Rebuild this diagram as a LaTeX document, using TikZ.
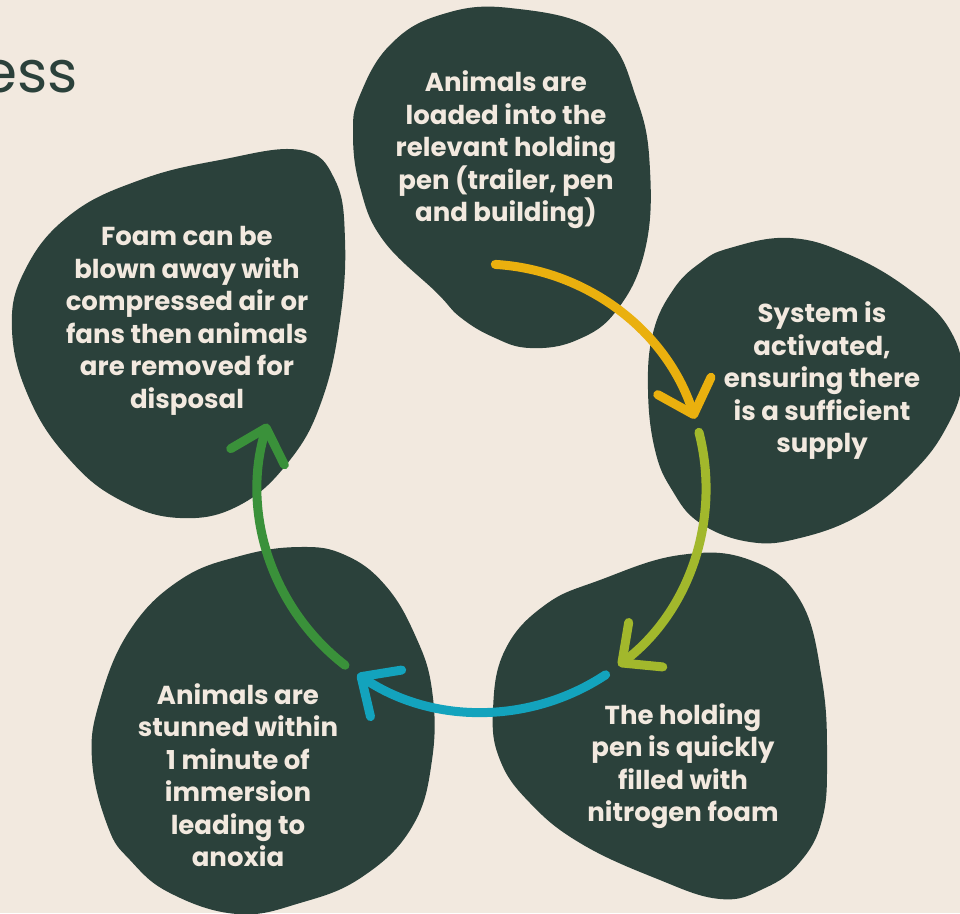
\documentclass[tikz,border=0pt]{standalone}
\usepackage{fontspec}
\setmainfont{Poppins}
\usetikzlibrary{arrows.meta,calc}
\definecolor{bg}{HTML}{F2E9DF}
\definecolor{blob}{HTML}{2B413B}
\definecolor{txt}{HTML}{F2E9DF}
\definecolor{cyel}{HTML}{EAB00E}
\definecolor{clime}{HTML}{A2B82C}
\definecolor{cteal}{HTML}{13A3BD}
\definecolor{cgreen}{HTML}{3A913A}
\begin{document}
\begin{tikzpicture}[x=1pt,y=-1pt,
  blobshape/.style={fill=blob},
  steplabel/.style={text=txt, inner sep=0pt, align=center,
    font=\fontsize{26}{32.5}\selectfont\bfseries},
  flow/.style={line width=9pt, line cap=round,
    -{Straight Barb[length=30pt,width=56pt,round]}}]
\fill[bg] (0,0) rectangle (960,913);
\useasboundingbox (0,0) rectangle (960,913);
\node[anchor=base east, inner sep=0pt, text=blob, font=\fontsize{58}{60}\selectfont] (title) at (78,92) {ess};
% blobs
\fill[blobshape] plot[smooth cycle, tension=0.7] coordinates {(510,8) (600,33) (637,100) (650,170) (645,250) (617,310) (577,340) (530,348) (493,337) (460,317) (437,293) (383,240) (360,187) (353,133) (360,95) (390,45) (440,15)};
\fill[blobshape] plot[smooth cycle, tension=0.7] coordinates {(730,248) (790,238) (850,255) (910,290) (950,330) (962,380) (945,430) (910,475) (860,515) (800,538) (750,542) (700,523) (672,490) (655,450) (648,390) (653,333) (673,290) (700,263)};
\fill[blobshape] plot[smooth cycle, tension=0.7] coordinates {(600,580) (680,555) (750,560) (800,600) (822,680) (827,760) (822,820) (800,862) (765,888) (720,899) (655,878) (580,843) (530,803) (500,760) (493,710) (505,650) (545,605)};
\fill[blobshape] plot[smooth cycle, tension=0.7] coordinates {(100,700) (130,630) (180,580) (240,556) (300,547) (345,555) (385,585) (415,635) (432,690) (432,760) (412,827) (362,877) (300,903) (237,914) (170,893) (130,860) (108,827) (92,760)};
\fill[blobshape] plot[smooth cycle, tension=0.7] coordinates {(300,150) (335,180) (345,240) (340,320) (322,400) (290,460) (240,505) (180,518) (120,500) (70,460) (30,400) (12,330) (25,270) (70,215) (140,180) (220,160)};
% labels
\node[steplabel] (n1) at (506,150) {Animals are\\loaded into the\\relevant holding\\pen (trailer, pen\\and building)};
\node[steplabel] (n2) at (822,381) {System is\\activated,\\ensuring there\\is a sufficient\\supply};
\node[steplabel] (n3) at (683,766) {The holding\\pen is quickly\\filled with\\nitrogen foam};
\node[steplabel] (n4) at (238,775) {Animals are\\stunned within\\1 minute of\\immersion\\leading to\\anoxia};
\node[steplabel] (n5) at (187,321) {Foam can be\\blown away with\\compressed air or\\fans then animals\\are removed for\\disposal};
% arrows
\coordinate (ctr) at (482,488);
\coordinate (a1) at ($(ctr)+(86.6:224pt)$);
\coordinate (a2) at ($(ctr)+(14.4:224pt)$);
\coordinate (a3) at ($(ctr)+(-56.5:224pt)$);
\coordinate (a4) at ($(ctr)+(-127.7:224pt)$);
\draw[flow, cyel] (a1) arc[start angle=86.6, end angle=18, radius=224pt];
\draw[flow, clime] (a2) arc[start angle=14.4, end angle=-52.5, radius=224pt];
\draw[flow, cteal] (a3) arc[start angle=-56.5, end angle=-123.8, radius=224pt];
\draw[flow, cgreen] (a4) arc[start angle=-127.7, end angle=-196.7, radius=224pt];
\end{tikzpicture}
\end{document}
